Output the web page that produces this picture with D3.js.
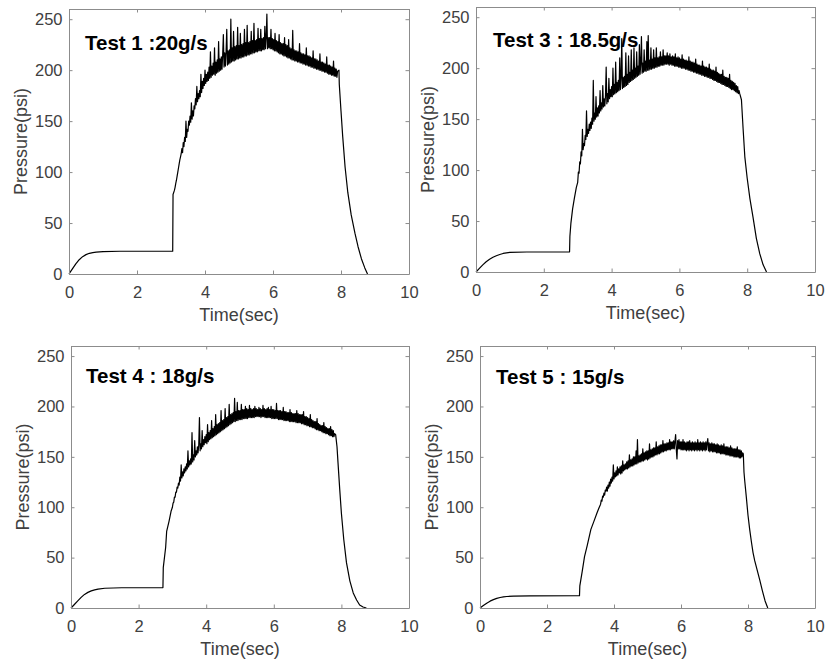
<!DOCTYPE html>
<html>
<head>
<meta charset="utf-8">
<script src="https://cdn.jsdelivr.net/npm/d3@7"></script>
<style>
  body { margin: 0; background: #fff; }
  svg { display: block; }
</style>
</head>
<body>
<div id="svganchor"></div>
<script>
let width = 826, height = 661;

// axis ticks and titles
const timeTicks = [0, 2, 4, 6, 8, 10];
const pressureTicks = [0, 50, 100, 150, 200, 250];
const testTitles = ["Test 1 :20g/s", "Test 3 : 18.5g/s", "Test 4 : 18g/s", "Test 5 : 15g/s"];

// burn phase is sampled every burnStep seconds from its start time
const burnStep = 0.02;

// ---- Test 1 : 20 g/s ----
const test1Rise = [[0, 0], [0.05, 2.5], [0.1, 5], [0.15, 7.5], [0.2, 10], [0.3, 14], [0.4, 17], [0.5, 19],
    [0.6, 20.3], [0.7, 21], [0.8, 21.5], [1.0, 22], [1.5, 22.3], [3.05, 22.3], [3.06, 78]];
const test1BurnStart = 3.10;
const test1Burn = [
    82, 85, 89, 92, 96, 100, 104, 108, 112, 115,
    118, 123, 119, 129, 125, 134, 130, 150, 134, 142,
    140, 150, 146, 155, 149, 168, 152, 160, 155, 165,
    162, 172, 166, 184, 169, 177, 172, 180, 174, 196,
    178, 189, 182, 192, 185, 200, 187, 196, 189, 198,
    190, 203, 192, 218, 193, 204, 195, 207, 196, 222,
    195, 208, 197, 210, 198, 228, 199, 211, 200, 213,
    201, 215, 235, 203, 217, 204, 218, 240, 205, 219,
    206, 220, 207, 250, 208, 222, 209, 238, 209, 223,
    210, 224, 211, 242, 211, 224, 212, 236, 212, 225,
    213, 226, 213, 240, 214, 227, 214, 244, 215, 227,
    215, 228, 216, 238, 216, 229, 217, 246, 217, 229,
    218, 230, 218, 241, 219, 231, 219, 240, 219, 231,
    220, 232, 220, 243, 221, 232, 255, 221, 232, 222,
    232, 221, 240, 221, 231, 220, 230, 219, 236, 219,
    229, 218, 228, 217, 235, 216, 227, 216, 226, 215,
    226, 214, 232, 214, 225, 213, 224, 212, 230, 212,
    222, 211, 221, 210, 239, 210, 220, 209, 219, 209,
    219, 208, 218, 208, 226, 207, 217, 207, 216, 206,
    216, 206, 215, 205, 222, 205, 214, 204, 214, 204,
    213, 203, 212, 203, 219, 202, 211, 202, 211, 201,
    210, 201, 209, 200, 216, 200, 208, 199, 208, 199,
    207, 198, 206, 198, 213, 197, 205, 196, 205, 196,
    204, 195, 203, 195, 209, 194, 202, 194, 201, 193,
    199];
const test1Fall = [[7.94, 200], [7.95, 186], [8.0, 160], [8.05, 135], [8.12, 105], [8.2, 80], [8.3, 58],
    [8.41, 40], [8.5, 27], [8.6, 15], [8.7, 6], [8.78, 0]];

// ---- Test 3 : 18.5 g/s ----
const test3Rise = [[0, 0], [0.1, 3.5], [0.2, 7], [0.3, 10], [0.4, 12.5], [0.5, 14.5], [0.6, 16], [0.7, 17.2],
    [0.8, 18.2], [1.0, 19.2], [1.5, 19.6], [2.76, 19.8], [2.77, 35], [2.8, 48], [2.85, 62], [2.9, 72], [2.96, 83]];
const test3BurnStart = 3.00;
const test3Burn = [
    88, 98, 97, 108, 106, 118, 114, 140, 120, 126,
    124, 134, 130, 158, 133, 140, 136, 145, 139, 147,
    141, 151, 145, 188, 148, 156, 150, 172, 152, 161,
    153, 163, 156, 178, 158, 166, 160, 183, 162, 170,
    163, 173, 201, 165, 175, 167, 190, 170, 179, 172,
    182, 172, 200, 174, 184, 175, 206, 176, 186, 177,
    188, 178, 210, 179, 190, 229, 180, 191, 181, 192,
    182, 215, 183, 194, 184, 212, 186, 196, 187, 218,
    188, 198, 189, 220, 190, 200, 191, 216, 192, 202,
    193, 223, 194, 204, 231, 195, 205, 196, 218, 197,
    207, 197, 226, 198, 232, 198, 208, 199, 220, 199,
    209, 200, 218, 200, 210, 201, 220, 201, 210, 202,
    211, 202, 216, 203, 211, 203, 218, 203, 212, 204,
    212, 204, 215, 204, 212, 203, 214, 204, 211, 203,
    212, 203, 211, 202, 214, 202, 210, 202, 211, 201,
    210, 201, 209, 200, 213, 200, 209, 200, 208, 199,
    208, 199, 207, 198, 211, 198, 207, 197, 206, 197,
    206, 196, 205, 196, 209, 195, 204, 195, 203, 194,
    203, 194, 202, 193, 207, 193, 202, 192, 201, 192,
    201, 191, 200, 191, 204, 190, 199, 190, 198, 189,
    198, 188, 197, 188, 201, 187, 196, 186, 195, 186,
    194, 185, 194, 184, 198, 184, 192, 183, 191, 182,
    191, 182, 190, 181, 194, 180, 188, 179, 187, 179,
    186, 178, 185, 177, 183, 176, 182, 175, 178];
const test3Fall = [[7.78, 175], [7.83, 169], [7.88, 140], [7.93, 113], [8.0, 92], [8.08, 72], [8.17, 54],
    [8.27, 33], [8.37, 18], [8.47, 7], [8.57, 0]];

// ---- Test 4 : 18 g/s ----
const test4Rise = [[0, 0], [0.1, 3.5], [0.2, 7], [0.3, 10.5], [0.4, 13.5], [0.5, 15.5], [0.6, 17], [0.7, 18],
    [0.8, 18.8], [1.0, 19.6], [1.5, 20.1], [2.72, 20.3], [2.73, 40], [2.8, 60], [2.83, 76], [2.9, 86], [2.96, 96]];
const test4BurnStart = 3.00;
const test4Burn = [
    100, 104, 105, 110, 110, 115, 115, 120, 119, 124,
    122, 130, 126, 142, 129, 135, 131, 138, 134, 140,
    136, 143, 138, 156, 140, 146, 142, 148, 143, 174,
    145, 152, 147, 166, 150, 156, 152, 160, 154, 162,
    189, 156, 163, 158, 176, 160, 167, 162, 170, 164,
    172, 163, 182, 165, 174, 167, 176, 168, 186, 169,
    178, 170, 180, 171, 192, 172, 182, 173, 183, 174,
    184, 175, 196, 176, 186, 177, 187, 178, 198, 179,
    189, 180, 190, 181, 202, 182, 192, 183, 193, 184,
    194, 185, 208, 185, 195, 186, 204, 186, 196, 187,
    196, 187, 202, 187, 197, 188, 197, 188, 200, 188,
    198, 188, 197, 189, 201, 189, 198, 189, 197, 189,
    198, 189, 200, 190, 198, 190, 197, 190, 199, 190,
    198, 189, 197, 190, 201, 190, 198, 189, 197, 189,
    198, 189, 199, 189, 197, 189, 200, 188, 197, 188,
    197, 188, 196, 188, 203, 188, 196, 187, 196, 187,
    196, 187, 195, 187, 199, 186, 195, 186, 195, 186,
    194, 186, 194, 185, 197, 185, 194, 185, 193, 185,
    193, 185, 193, 184, 196, 184, 193, 184, 192, 184,
    192, 183, 192, 183, 195, 182, 190, 182, 190, 181,
    189, 181, 188, 180, 192, 180, 187, 179, 186, 179,
    185, 178, 185, 177, 188, 177, 183, 176, 182, 176,
    181, 175, 181, 174, 184, 174, 180, 173, 179, 173,
    178, 172, 178, 171, 180, 171, 177, 170, 176, 170,
    173];
const test4Fall = [[7.83, 172], [7.87, 160], [7.9, 144], [7.95, 118], [8.0, 94], [8.07, 68], [8.15, 45],
    [8.25, 27], [8.35, 15], [8.45, 8], [8.54, 3], [8.64, 1], [8.74, 0]];

// ---- Test 5 : 15 g/s ----
const test5Rise = [[0, 0], [0.1, 2.5], [0.2, 4.8], [0.3, 6.8], [0.4, 8.3], [0.5, 9.5], [0.6, 10.4], [0.7, 11],
    [0.8, 11.4], [1.0, 11.8], [1.5, 12], [2.97, 12.2], [2.98, 22], [3.05, 36], [3.12, 51], [3.2, 62],
    [3.31, 78], [3.4, 86], [3.5, 95], [3.56, 100]];
const test5BurnStart = 3.60;
const test5Burn = [
    103, 107, 106, 111, 110, 114, 112, 117, 116, 120,
    116, 122, 119, 125, 121, 128, 124, 130, 126, 142,
    128, 134, 130, 136, 131, 140, 132, 138, 134, 140,
    133, 141, 134, 146, 136, 142, 137, 143, 138, 145,
    138, 146, 139, 152, 140, 147, 141, 148, 141, 150,
    142, 150, 143, 156, 143, 167, 144, 151, 145, 152,
    145, 153, 146, 158, 146, 154, 147, 155, 148, 156,
    147, 156, 148, 163, 149, 157, 150, 158, 150, 159,
    151, 159, 152, 165, 152, 160, 153, 161, 153, 162,
    154, 162, 155, 166, 155, 163, 156, 163, 156, 164,
    157, 164, 157, 167, 157, 165, 158, 165, 158, 166,
    158, 166, 172, 157, 148, 166, 158, 167, 158, 165,
    157, 165, 157, 167, 157, 165, 157, 164, 156, 165,
    157, 165, 156, 166, 157, 164, 156, 165, 157, 164,
    156, 165, 157, 164, 156, 167, 157, 164, 156, 165,
    157, 164, 156, 165, 157, 164, 156, 165, 157, 164,
    168, 156, 164, 155, 163, 156, 164, 155, 163, 155,
    163, 155, 162, 154, 163, 154, 162, 154, 161, 153,
    162, 153, 161, 153, 163, 153, 160, 152, 160, 152,
    160, 152, 159, 151, 161, 151, 159, 151, 158, 150,
    158, 150, 158, 150, 160, 150, 157, 149, 157, 149,
    156, 150, 154];
const test5Fall = [[7.86, 153], [7.88, 135], [7.9, 127], [7.95, 110], [8.0, 92], [8.05, 78], [8.1, 66],
    [8.15, 55], [8.2, 47], [8.27, 38], [8.35, 28], [8.43, 17], [8.51, 7], [8.59, 0]];

const testRise = [test1Rise, test3Rise, test4Rise, test5Rise];
const testBurnStart = [test1BurnStart, test3BurnStart, test4BurnStart, test5BurnStart];
const testBurn = [test1Burn, test3Burn, test4Burn, test5Burn];
const testFall = [test1Fall, test3Fall, test4Fall, test5Fall];

// plot boxes (pixels) and title offsets
const panels = [
    {left: 69, top: 9, right: 409, bottom: 274, tx: 16, ty: 41},
    {left: 476, top: 7, right: 815, bottom: 272, tx: 17, ty: 40},
    {left: 71, top: 346, right: 409, bottom: 608, tx: 15, ty: 37},
    {left: 480, top: 346, right: 815, bottom: 608, tx: 16, ty: 38}
];

let svg = d3.select("#svganchor")
    .append("svg")
    .attr("width", width)
    .attr("height", height);

let tickColor = "#8c8c8c";
let labelColor = "#404040";
let fontFamily = "'Liberation Sans', Arial, sans-serif";

function styleAxis(g) {
    g.attr("font-family", fontFamily)
        .attr("font-size", 16.5);
    g.select(".domain").attr("stroke", tickColor).attr("stroke-width", 1);
    g.selectAll(".tick line").attr("stroke", tickColor);
    g.selectAll(".tick text").attr("fill", labelColor);
}

panels.forEach(function(p, k) {
    let w = p.right - p.left, h = p.bottom - p.top;

    let xScale = d3.scaleLinear().domain([0, 10]).range([0, w]);
    let yScale = d3.scaleLinear().domain([0, 260]).range([h, 0]);

    let g = svg.append("g")
        .attr("transform", `translate(${p.left},${p.top})`);

    // series: smooth rise, sampled burn, tail-off
    let series = testRise[k].slice();
    testBurn[k].forEach(function(v, i) {
        series.push([testBurnStart[k] + i * burnStep, v]);
    });
    series = series.concat(testFall[k]);

    let line = d3.line()
        .x(function(d) { return xScale(d[0]); })
        .y(function(d) { return yScale(d[1]); });

    g.append("path")
        .datum(series)
        .attr("fill", "none")
        .attr("stroke", "#000")
        .attr("stroke-width", 1.2)
        .attr("stroke-linejoin", "round")
        .attr("d", line);

    // axes, box style with inward ticks
    g.append("g")
        .attr("transform", `translate(0,${h})`)
        .call(d3.axisBottom(xScale).tickValues(timeTicks).tickSizeInner(-3.5).tickSizeOuter(0).tickPadding(12.5))
        .call(styleAxis);

    g.append("g")
        .call(d3.axisLeft(yScale).tickValues(pressureTicks).tickSizeInner(-3.5).tickSizeOuter(0).tickPadding(6.5))
        .call(styleAxis);

    g.append("g")
        .call(d3.axisTop(xScale).tickValues(timeTicks).tickSizeInner(-3.5).tickSizeOuter(0).tickFormat(""))
        .call(styleAxis);

    g.append("g")
        .attr("transform", `translate(${w},0)`)
        .call(d3.axisRight(yScale).tickValues(pressureTicks).tickSizeInner(-3.5).tickSizeOuter(0).tickFormat(""))
        .call(styleAxis);

    // axis titles
    g.append("text")
        .attr("text-anchor", "middle")
        .attr("x", w / 2)
        .attr("y", h + 47)
        .attr("font-family", fontFamily)
        .attr("font-size", 18)
        .attr("fill", labelColor)
        .text("Time(sec)");

    g.append("text")
        .attr("text-anchor", "middle")
        .attr("transform", `translate(${-48},${h / 2}) rotate(-90)`)
        .attr("dy", "0.35em")
        .attr("font-family", fontFamily)
        .attr("font-size", 18)
        .attr("fill", labelColor)
        .text("Pressure(psi)");

    g.append("text")
        .attr("x", p.tx)
        .attr("y", p.ty)
        .attr("font-family", fontFamily)
        .attr("font-size", 20.5)
        .attr("font-weight", "bold")
        .attr("fill", "#000")
        .text(testTitles[k]);
});
</script>
</body>
</html>
